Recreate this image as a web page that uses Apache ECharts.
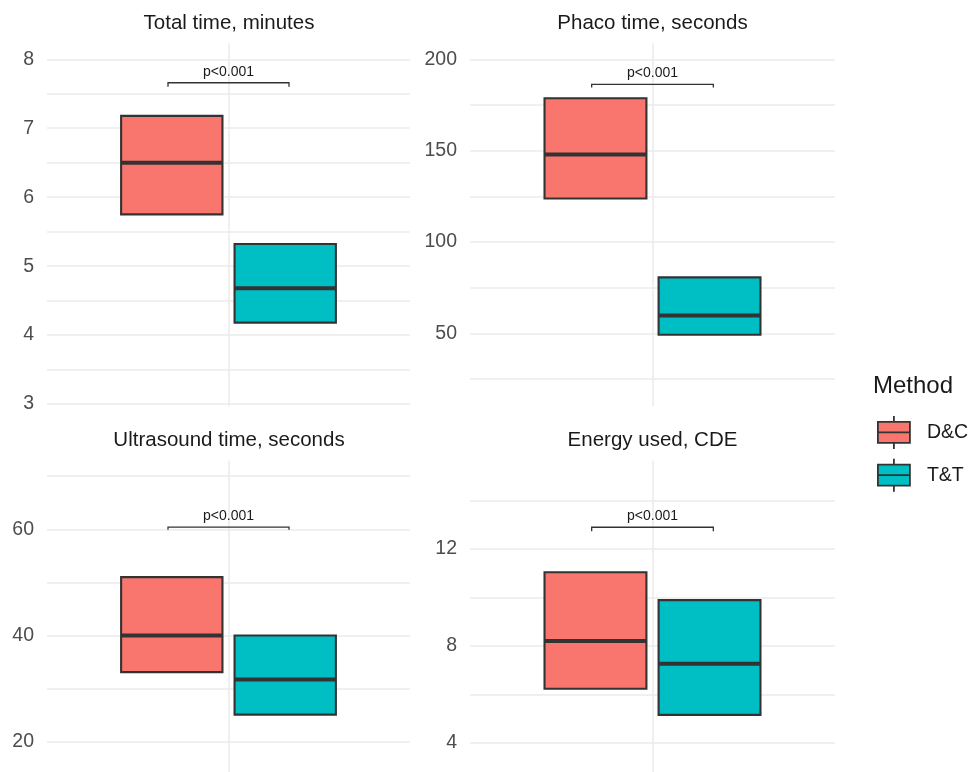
<!DOCTYPE html>
<html><head><meta charset="utf-8">
<script src="https://cdn.jsdelivr.net/npm/echarts@6/dist/echarts.min.js"></script>
<style>html,body{margin:0;padding:0;background:#fff}#c{width:972px;height:772px}</style>
</head><body><div id="c"></div>
<script>
// ---------------- data ----------------
const methods = ['D&C', 'T&T'];
const methodColors = ['#F8766D', '#00BFC4'];
const panelTitles = ['Total time, minutes', 'Phaco time, seconds', 'Ultrasound time, seconds', 'Energy used, CDE'];
// [Q1, median, Q3] for each method (D&C, T&T)
const totalTime = [[5.75, 6.50, 7.18], [4.18, 4.68, 5.32]];
const phacoTime = [[123.8, 147.9, 178.7], [49.2, 59.8, 80.6]];
const ultrasoundTime = [[33.1, 40.0, 51.0], [25.1, 31.7, 40.0]];
const energyUsed = [[6.23, 8.20, 11.04], [5.15, 7.26, 9.89]];
const pLabels = ['p<0.001', 'p<0.001', 'p<0.001', 'p<0.001'];
// bracket level and tip end, per panel
const bracketLevels = [[7.66, 7.60], [186.3, 184.5], [60.4, 59.9], [12.9, 12.74]];
const yMajorSteps = [1, 50, 20, 4];

// ---------------- layout ----------------
const datasets = [totalTime, phacoTime, ultrasoundTime, energyUsed];
const yRanges = [[2.967, 8.232], [10.04, 208.76], [14.29, 72.92], [2.79, 15.65]];
const grids = [
  {left: 47, top: 43.3, width: 363, height: 363},
  {left: 470, top: 43.3, width: 365, height: 363},
  {left: 47, top: 460.7, width: 363, height: 311.3},
  {left: 470, top: 460.7, width: 365, height: 311.3}
];
const titlePos = [[229, 13], [652.5, 13], [229, 430], [652.5, 430]];
const dodge = 0.375, boxW = 0.335, bracketHalf = 0.2;
const FONT = 'Liberation Sans, Arial, sans-serif';
const gridColor = '#EBEBEB';

function isMajor(v, step) {
  const r = v / step;
  return Math.abs(r - Math.round(r)) < 1e-6;
}

const xAxes = grids.map((g, p) => ({
  type: 'value', gridIndex: p, min: 0.4, max: 1.6, minInterval: 1, maxInterval: 1,
  axisLine: {show: false}, axisTick: {show: false}, axisLabel: {show: false},
  splitLine: {show: true, showMinLine: false, showMaxLine: false, lineStyle: {color: gridColor, width: 1.5}}
}));
const yAxes = grids.map((g, p) => ({
  type: 'value', gridIndex: p, min: yRanges[p][0], max: yRanges[p][1],
  minInterval: yMajorSteps[p] / 2, maxInterval: yMajorSteps[p] / 2,
  axisLine: {show: false}, axisTick: {show: false},
  axisLabel: {
    show: true, margin: 13, fontSize: 19.5, color: '#4D4D4D', fontFamily: FONT,
    showMinLabel: false, showMaxLabel: false,
    formatter: v => isMajor(v, yMajorSteps[p]) ? String(Math.round(v)) : ''
  },
  splitLine: {show: true, showMinLine: false, showMaxLine: false, lineStyle: {color: gridColor, width: 1.5}}
}));

function boxRender(params, api) {
  const x = api.value(0), lo = api.value(1), med = api.value(2), hi = api.value(3);
  const color = api.visual('color');
  const a = api.coord([x - boxW / 2, hi]);
  const b = api.coord([x + boxW / 2, lo]);
  const m1 = api.coord([x - boxW / 2, med]);
  const m2 = api.coord([x + boxW / 2, med]);
  return {
    type: 'group',
    children: [
      {type: 'rect', shape: {x: a[0], y: a[1], width: b[0] - a[0], height: b[1] - a[1]},
       style: {fill: color, stroke: '#333333', lineWidth: 2.1}},
      {type: 'line', shape: {x1: m1[0], y1: m1[1], x2: m2[0], y2: m2[1]},
       style: {stroke: '#333333', lineWidth: 4}}
    ]
  };
}

function makeBracketRender(p) {
  return function (params, api) {
    const x1 = api.value(0), x2 = api.value(1), lev = api.value(2), tip = api.value(3);
    const p1 = api.coord([x1, lev]), p2 = api.coord([x2, lev]);
    const t1 = api.coord([x1, tip]), t2 = api.coord([x2, tip]);
    return {
      type: 'group',
      children: [
        {type: 'polyline', shape: {points: [t1, p1, p2, t2]},
         style: {stroke: '#333333', lineWidth: 1.3, fill: null}},
        {type: 'text', x: (p1[0] + p2[0]) / 2, y: p1[1] - 4,
         style: {text: pLabels[p], fill: '#1a1a1a', font: '14px ' + FONT,
                 align: 'center', verticalAlign: 'bottom'}}
      ]
    };
  };
}

const series = [];
datasets.forEach((ds, p) => {
  methods.forEach((m, i) => {
    series.push({
      type: 'custom', name: m, xAxisIndex: p, yAxisIndex: p, z: 3,
      itemStyle: {color: methodColors[i]},
      encode: {x: 0, y: [1, 2, 3]},
      data: [[1 + (i - 0.5) * dodge].concat(ds[i])],
      renderItem: boxRender
    });
  });
  series.push({
    type: 'custom', name: 'sig' + p, xAxisIndex: p, yAxisIndex: p, z: 4, silent: true,
    encode: {x: [0, 1], y: [2, 3]},
    data: [[1 - bracketHalf, 1 + bracketHalf, bracketLevels[p][0], bracketLevels[p][1]]],
    renderItem: makeBracketRender(p)
  });
});

const boxIcon = 'path://M16,0L16,6M0,6L32,6L32,27L0,27ZM0,16.5L32,16.5M16,27L16,33';

const titles = panelTitles.map((t, p) => ({
  text: t, left: titlePos[p][0], top: titlePos[p][1], textAlign: 'center', padding: 0,
  textStyle: {fontSize: 20.5, fontWeight: 'normal', color: '#1a1a1a', fontFamily: FONT}
}));
titles.push({
  text: 'Method', left: 873, top: 374, padding: 0,
  textStyle: {fontSize: 24, fontWeight: 'normal', color: '#1a1a1a', fontFamily: FONT}
});

const chart = echarts.init(document.getElementById('c'), null, {renderer: 'canvas'});
chart.setOption({
  animation: false,
  backgroundColor: '#ffffff',
  title: titles,
  grid: grids.map(g => Object.assign({containLabel: false}, g)),
  xAxis: xAxes,
  yAxis: yAxes,
  legend: {
    orient: 'vertical', left: 877, top: 415, padding: 0,
    itemWidth: 32, itemHeight: 33, itemGap: 8, selectedMode: false,
    data: methods.map((m, i) => ({
      name: m, icon: boxIcon,
      itemStyle: {color: methodColors[i], borderColor: '#333333', borderWidth: 1.8}
    })),
    textStyle: {fontSize: 19.5, color: '#1a1a1a', fontFamily: FONT, padding: [0, 0, 0, 12]}
  },
  series: series
});
</script>
</body></html>
